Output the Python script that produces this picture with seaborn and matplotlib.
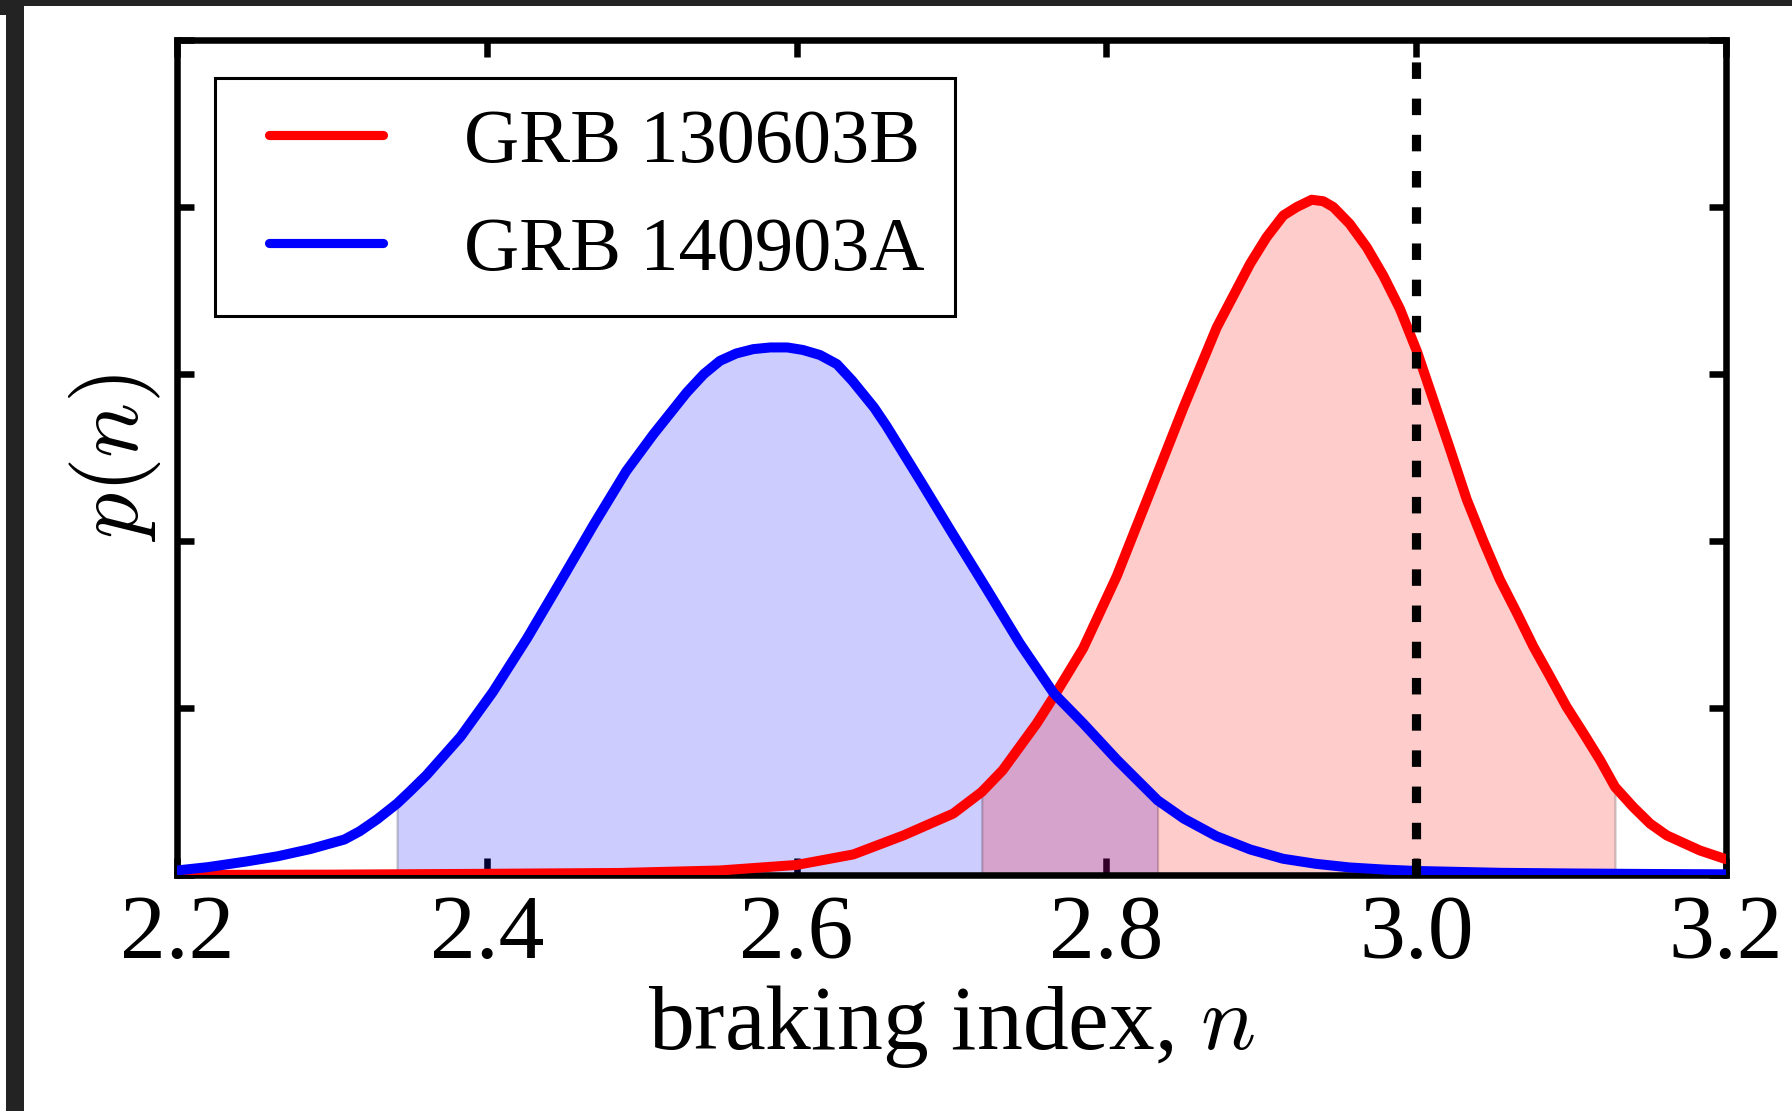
import numpy as np
import pandas as pd
import matplotlib
matplotlib.use("Agg")
import matplotlib.pyplot as plt
import seaborn as sns
from matplotlib.patches import Rectangle

# Posterior density of the braking index n for each burst
labels = ["GRB 130603B", "GRB 140903A"]
colors = ["#ff0000", "#0000ff"]

n_130603B = [2.200, 2.300, 2.400, 2.486, 2.5505, 2.600, 2.6366, 2.669, 2.701, 2.7195,
             2.733, 2.755, 2.766, 2.785, 2.8066, 2.828, 2.8497, 2.8712, 2.8927, 2.9034,
             2.9142, 2.9228, 2.9325, 2.940, 2.9465, 2.957, 2.968, 2.9787, 2.9895, 3.0005,
             3.0215, 3.0326, 3.0434, 3.054, 3.065, 3.0756, 3.0864, 3.097, 3.108, 3.1187,
             3.1283, 3.140, 3.151, 3.1617, 3.183, 3.200]
p_130603B = [0.003, 0.005, 0.010, 0.015, 0.030, 0.063, 0.126, 0.240, 0.370, 0.500,
             0.630, 0.910, 1.070, 1.360, 1.790, 2.290, 2.800, 3.280, 3.660, 3.820,
             3.950, 4.000, 4.044, 4.035, 4.000, 3.900, 3.760, 3.590, 3.390, 3.135,
             2.560, 2.250, 2.000, 1.770, 1.570, 1.370, 1.190, 1.010, 0.850, 0.690,
             0.530, 0.410, 0.310, 0.240, 0.150, 0.097]

n_140903A = [2.200, 2.220, 2.245, 2.265, 2.286, 2.308, 2.318, 2.329, 2.342, 2.350,
             2.361, 2.383, 2.404, 2.426, 2.447, 2.469, 2.490, 2.5075, 2.529, 2.540,
             2.5505, 2.561, 2.572, 2.583, 2.594, 2.604, 2.615, 2.626, 2.636, 2.650,
             2.658, 2.680, 2.701, 2.723, 2.744, 2.766, 2.785, 2.807, 2.833, 2.850,
             2.871, 2.893, 2.914, 2.935, 2.957, 2.980, 3.000, 3.054, 3.100, 3.150,
             3.200]
p_140903A = [0.030, 0.050, 0.084, 0.115, 0.158, 0.215, 0.265, 0.335, 0.430, 0.500,
             0.600, 0.830, 1.100, 1.420, 1.750, 2.100, 2.420, 2.640, 2.890, 3.000,
             3.080, 3.124, 3.150, 3.160, 3.160, 3.145, 3.115, 3.060, 2.960, 2.800,
             2.690, 2.360, 2.040, 1.710, 1.390, 1.090, 0.910, 0.690, 0.450, 0.340,
             0.235, 0.155, 0.100, 0.070, 0.048, 0.035, 0.027, 0.016, 0.012, 0.009,
             0.007]

# Credible intervals shaded under each curve
interval_130603B = (2.7195, 3.1283)
interval_140903A = (2.342, 2.833)

# Reference value of the braking index for magnetic dipole spin-down
n_dipole = 3.0

x_ticks = [2.2, 2.4, 2.6, 2.8, 3.0, 3.2]
x_ticklabels = ["2.2", "2.4", "2.6", "2.8", "3.0", "3.2"]
y_ticks = [0, 1, 2, 3, 4, 5]

sns.set_style("ticks")
plt.rcParams.update({
    "font.family": ["Liberation Serif", "DejaVu Serif"],
    "mathtext.fontset": "cm",
    "text.color": "black",
    "axes.labelcolor": "black",
    "axes.edgecolor": "black",
    "axes.linewidth": 2.35,
    "xtick.color": "black",
    "ytick.color": "black",
    "xtick.direction": "in",
    "ytick.direction": "in",
    "xtick.top": True,
    "ytick.right": True,
    "xtick.major.size": 6,
    "ytick.major.size": 6,
    "xtick.major.width": 2.35,
    "ytick.major.width": 2.35,
    "xtick.major.pad": 7,
})

fig = plt.figure(figsize=(8.96, 5.555), dpi=200)
ax = fig.add_axes([0.0988, 0.2120, 0.9632 - 0.0988, 0.9640 - 0.2120])

df_r = pd.DataFrame({"n": n_130603B, "p": p_130603B})
df_b = pd.DataFrame({"n": n_140903A, "p": p_140903A})

# shaded credible regions (blue first, red on top)
for df, (lo, hi), c in [(df_b, interval_140903A, colors[1]),
                        (df_r, interval_130603B, colors[0])]:
    m = (df["n"] >= lo - 1e-9) & (df["n"] <= hi + 1e-9)
    ax.fill_between(df["n"][m], 0, df["p"][m], facecolor=c, edgecolor="k",
                    alpha=0.2, linewidth=0.8, zorder=1)

line_kw = dict(lw=3.6, ax=ax, sort=False, estimator=None, zorder=3,
               solid_joinstyle="round")
sns.lineplot(data=df_r, x="n", y="p", color=colors[0], label=labels[0], **line_kw)
sns.lineplot(data=df_b, x="n", y="p", color=colors[1], label=labels[1], **line_kw)

ax.axvline(n_dipole, color="k", lw=3.3, ls=(0, (1.8, 2.15)), zorder=4)

ax.set_xlim(2.2, 3.2)
ax.set_ylim(0, 5)
ax.set_xticks(x_ticks)
ax.set_xticklabels(x_ticklabels, fontsize=33)
ax.set_yticks(y_ticks)
ax.set_yticklabels([])
ax.set_xlabel("braking index, $n$", fontsize=33, labelpad=2)
ax.set_ylabel("$p(n)$", fontsize=33, labelpad=1.7)

leg = ax.legend(loc="upper left", fontsize=27.5, frameon=True, fancybox=False,
                framealpha=1, edgecolor="black", borderaxespad=0.5, borderpad=0.4,
                labelspacing=0.5, numpoints=2, handlelength=2.1, handletextpad=0.75)
leg.get_frame().set_linewidth(1.1)
for line in leg.get_lines():
    line.set_linewidth(3.3)

# dark frame along the top and left edges of the canvas
dark = "#232323"
W, H = 1792, 1111
fig.add_artist(Rectangle((0, 1 - 6 / H), 1, 6 / H, transform=fig.transFigure,
                         color=dark, lw=0, zorder=10))
fig.add_artist(Rectangle((6 / W, 0), 18 / W, 1, transform=fig.transFigure,
                         color=dark, lw=0, zorder=10))
fig.add_artist(Rectangle((0, 1 - 15 / H), 6 / W, 15 / H, transform=fig.transFigure,
                         color=dark, lw=0, zorder=10))

fig.savefig("out.png", dpi=200, facecolor="white")
